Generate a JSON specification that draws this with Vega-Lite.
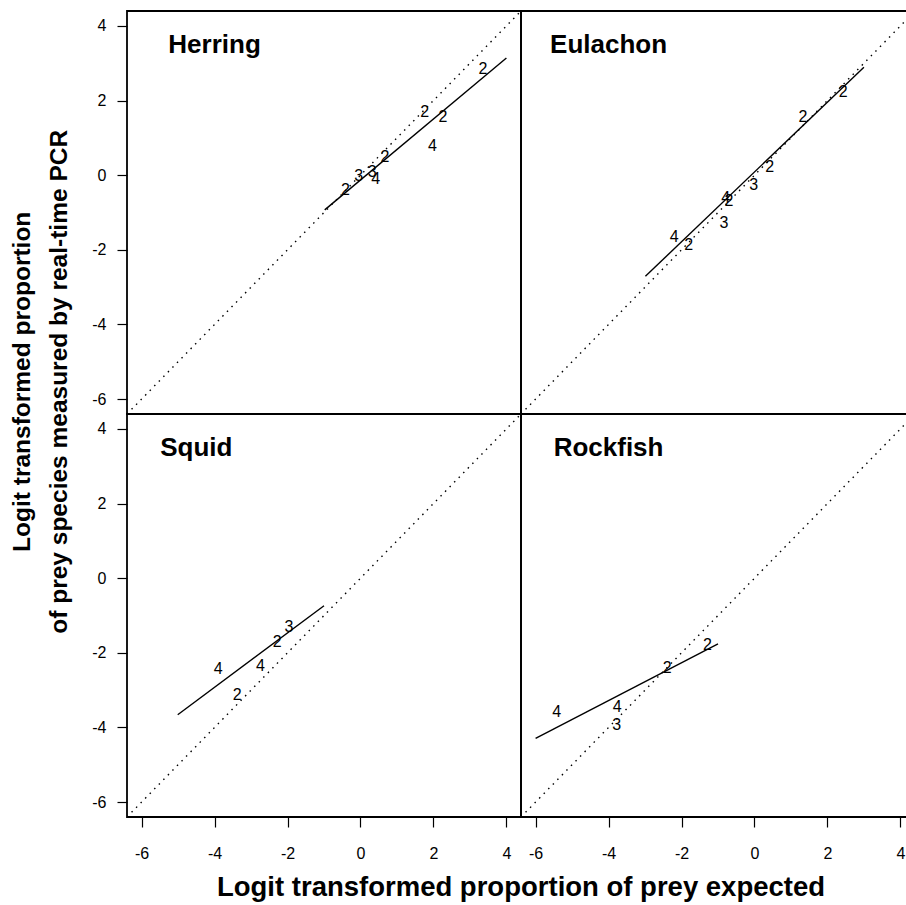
{
  "$schema": "https://vega.github.io/schema/vega-lite/v6.json",
  "background": "white",
  "padding": {"left": 10, "top": 10, "right": -9, "bottom": 2},
  "bounds": "flush",
  "title": {
    "text": ["Logit transformed proportion", "of prey species measured by real-time PCR"],
    "orient": "left",
    "anchor": "middle",
    "font": "Liberation Sans",
    "fontSize": 24.5,
    "fontWeight": "bold",
    "color": "black",
    "lineHeight": 37,
    "offset": 19,
    "dx": 74
  },
  "data": {
    "values": [
      {"panel": "Herring", "r": "top", "c": "left", "kind": "id", "x": -6.4, "y": -6.4},
      {"panel": "Herring", "r": "top", "c": "left", "kind": "id", "x": 4.4, "y": 4.4},
      {"panel": "Herring", "r": "top", "c": "left", "kind": "fit", "x": -0.98, "y": -0.93},
      {"panel": "Herring", "r": "top", "c": "left", "kind": "fit", "x": 4.0, "y": 3.14},
      {"panel": "Herring", "r": "top", "c": "left", "kind": "ttl", "x": -4.0, "y": 3.5, "label": "Herring"},
      {"panel": "Herring", "r": "top", "c": "left", "kind": "pt", "x": 3.36, "y": 2.84, "label": "2"},
      {"panel": "Herring", "r": "top", "c": "left", "kind": "pt", "x": 1.76, "y": 1.68, "label": "2"},
      {"panel": "Herring", "r": "top", "c": "left", "kind": "pt", "x": 2.26, "y": 1.55, "label": "2"},
      {"panel": "Herring", "r": "top", "c": "left", "kind": "pt", "x": 1.97, "y": 0.79, "label": "4"},
      {"panel": "Herring", "r": "top", "c": "left", "kind": "pt", "x": 0.67, "y": 0.48, "label": "2"},
      {"panel": "Herring", "r": "top", "c": "left", "kind": "pt", "x": -0.05, "y": -0.01, "label": "3"},
      {"panel": "Herring", "r": "top", "c": "left", "kind": "pt", "x": 0.32, "y": 0.08, "label": "3"},
      {"panel": "Herring", "r": "top", "c": "left", "kind": "pt", "x": 0.42, "y": -0.1, "label": "4"},
      {"panel": "Herring", "r": "top", "c": "left", "kind": "pt", "x": -0.41, "y": -0.41, "label": "2"},

      {"panel": "Eulachon", "r": "top", "c": "right", "kind": "id", "x": -6.4, "y": -6.4},
      {"panel": "Eulachon", "r": "top", "c": "right", "kind": "id", "x": 4.4, "y": 4.4},
      {"panel": "Eulachon", "r": "top", "c": "right", "kind": "fit", "x": -2.99, "y": -2.71},
      {"panel": "Eulachon", "r": "top", "c": "right", "kind": "fit", "x": 3.0, "y": 2.89},
      {"panel": "Eulachon", "r": "top", "c": "right", "kind": "ttl", "x": -4.0, "y": 3.5, "label": "Eulachon"},
      {"panel": "Eulachon", "r": "top", "c": "right", "kind": "pt", "x": 2.43, "y": 2.24, "label": "2"},
      {"panel": "Eulachon", "r": "top", "c": "right", "kind": "pt", "x": 1.33, "y": 1.57, "label": "2"},
      {"panel": "Eulachon", "r": "top", "c": "right", "kind": "pt", "x": 0.42, "y": 0.23, "label": "2"},
      {"panel": "Eulachon", "r": "top", "c": "right", "kind": "pt", "x": -0.02, "y": -0.26, "label": "3"},
      {"panel": "Eulachon", "r": "top", "c": "right", "kind": "pt", "x": -0.79, "y": -0.61, "label": "4"},
      {"panel": "Eulachon", "r": "top", "c": "right", "kind": "pt", "x": -0.7, "y": -0.68, "label": "2"},
      {"panel": "Eulachon", "r": "top", "c": "right", "kind": "pt", "x": -0.84, "y": -1.29, "label": "3"},
      {"panel": "Eulachon", "r": "top", "c": "right", "kind": "pt", "x": -2.2, "y": -1.66, "label": "4"},
      {"panel": "Eulachon", "r": "top", "c": "right", "kind": "pt", "x": -1.8, "y": -1.86, "label": "2"},

      {"panel": "Squid", "r": "bottom", "c": "left", "kind": "id", "x": -6.4, "y": -6.4},
      {"panel": "Squid", "r": "bottom", "c": "left", "kind": "id", "x": 4.4, "y": 4.4},
      {"panel": "Squid", "r": "bottom", "c": "left", "kind": "fit", "x": -5.01, "y": -3.66},
      {"panel": "Squid", "r": "bottom", "c": "left", "kind": "fit", "x": -1.0, "y": -0.74},
      {"panel": "Squid", "r": "bottom", "c": "left", "kind": "ttl", "x": -4.5, "y": 3.5, "label": "Squid"},
      {"panel": "Squid", "r": "bottom", "c": "left", "kind": "pt", "x": -1.96, "y": -1.3, "label": "3"},
      {"panel": "Squid", "r": "bottom", "c": "left", "kind": "pt", "x": -2.28, "y": -1.7, "label": "2"},
      {"panel": "Squid", "r": "bottom", "c": "left", "kind": "pt", "x": -3.9, "y": -2.43, "label": "4"},
      {"panel": "Squid", "r": "bottom", "c": "left", "kind": "pt", "x": -2.74, "y": -2.35, "label": "4"},
      {"panel": "Squid", "r": "bottom", "c": "left", "kind": "pt", "x": -3.38, "y": -3.13, "label": "2"},

      {"panel": "Rockfish", "r": "bottom", "c": "right", "kind": "id", "x": -6.4, "y": -6.4},
      {"panel": "Rockfish", "r": "bottom", "c": "right", "kind": "id", "x": 4.4, "y": 4.4},
      {"panel": "Rockfish", "r": "bottom", "c": "right", "kind": "fit", "x": -6.0, "y": -4.29},
      {"panel": "Rockfish", "r": "bottom", "c": "right", "kind": "fit", "x": -1.0, "y": -1.76},
      {"panel": "Rockfish", "r": "bottom", "c": "right", "kind": "ttl", "x": -4.0, "y": 3.5, "label": "Rockfish"},
      {"panel": "Rockfish", "r": "bottom", "c": "right", "kind": "pt", "x": -1.29, "y": -1.79, "label": "2"},
      {"panel": "Rockfish", "r": "bottom", "c": "right", "kind": "pt", "x": -2.39, "y": -2.42, "label": "2"},
      {"panel": "Rockfish", "r": "bottom", "c": "right", "kind": "pt", "x": -5.42, "y": -3.58, "label": "4"},
      {"panel": "Rockfish", "r": "bottom", "c": "right", "kind": "pt", "x": -3.76, "y": -3.46, "label": "4"},
      {"panel": "Rockfish", "r": "bottom", "c": "right", "kind": "pt", "x": -3.78, "y": -3.93, "label": "3"}
    ]
  },
  "facet": {
    "row": {"field": "r", "type": "nominal", "sort": ["top", "bottom"], "header": null},
    "column": {
      "field": "c",
      "type": "nominal",
      "sort": ["left", "right"],
      "header": {
        "title": "Logit transformed proportion of prey expected",
        "titleOrient": "bottom",
        "labels": false,
        "titleFont": "Liberation Sans",
        "titleFontSize": 27.5,
        "titleFontWeight": "bold",
        "titleColor": "black",
        "titlePadding": 3
      }
    }
  },
  "spacing": {"row": 0, "column": 0},
  "spec": {
    "width": 394,
    "height": 403,
    "encoding": {
      "x": {
        "field": "x",
        "type": "quantitative",
        "scale": {"domain": [-6.4, 4.4], "nice": false, "zero": false},
        "axis": {
          "values": [-6, -4, -2, 0, 2, 4],
          "labelExpr": "'' + datum.value",
          "title": null,
          "domain": false,
          "grid": false,
          "tickSize": 10,
          "tickColor": "black",
          "tickWidth": 1.2,
          "labelFont": "Liberation Sans",
          "labelFontSize": 16,
          "labelColor": "black",
          "labelPadding": 18,
          "labelFlush": false,
          "labelOverlap": false
        }
      },
      "y": {
        "field": "y",
        "type": "quantitative",
        "scale": {"domain": [-6.4, 4.4], "nice": false, "zero": false},
        "axis": {
          "values": [-6, -4, -2, 0, 2, 4],
          "labelExpr": "'' + datum.value",
          "title": null,
          "domain": false,
          "grid": false,
          "tickSize": 10,
          "tickColor": "black",
          "tickWidth": 1.2,
          "labelFont": "Liberation Sans",
          "labelFontSize": 16,
          "labelColor": "black",
          "labelPadding": 11,
          "labelFlush": false,
          "labelOverlap": false
        }
      }
    },
    "layer": [
      {
        "transform": [{"filter": "datum.kind === 'id'"}],
        "mark": {"type": "line", "color": "black", "strokeWidth": 1.4, "strokeDash": [1.5, 5], "clip": true},
        "encoding": {}
      },
      {
        "transform": [{"filter": "datum.kind === 'fit'"}],
        "mark": {"type": "line", "color": "black", "strokeWidth": 1.4, "clip": true},
        "encoding": {}
      },
      {
        "transform": [{"filter": "datum.kind === 'pt'"}],
        "mark": {"type": "text", "font": "Liberation Sans", "fontSize": 16, "color": "black", "align": "center", "baseline": "middle"},
        "encoding": {"text": {"field": "label", "type": "nominal"}}
      },
      {
        "transform": [{"filter": "datum.kind === 'ttl'"}],
        "mark": {"type": "text", "font": "Liberation Sans", "fontSize": 26, "fontWeight": "bold", "color": "black", "align": "center", "baseline": "middle"},
        "encoding": {"text": {"field": "label", "type": "nominal"}}
      }
    ]
  },
  "config": {
    "view": {"stroke": "black", "strokeWidth": 1.8},
    "font": "Liberation Sans"
  }
}
